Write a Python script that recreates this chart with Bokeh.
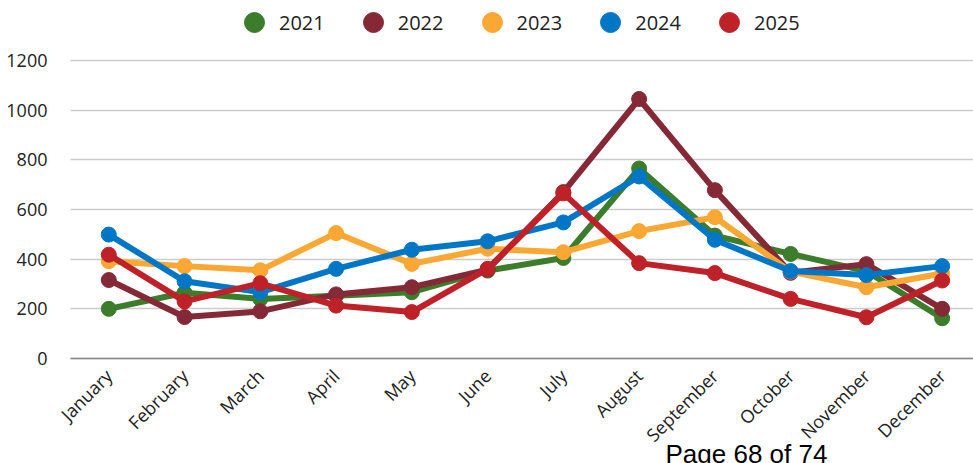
from bokeh.plotting import figure
from bokeh.models import Range1d, FixedTicker, Legend, LegendItem, Label
from bokeh.embed import file_html
from bokeh.resources import INLINE

months = ["January", "February", "March", "April", "May", "June", "July",
          "August", "September", "October", "November", "December"]
years = ["2021", "2022", "2023", "2024", "2025"]

v2021 = [200, 265, 240, 253, 267, 354, 405, 765, 495, 421, 352, 162]
v2022 = [316, 167, 190, 258, 287, 358, 670, 1045, 678, 345, 380, 200]
v2023 = [392, 372, 355, 505, 381, 442, 428, 513, 569, 350, 287, 342]
v2024 = [499, 311, 267, 361, 438, 472, 548, 733, 478, 352, 336, 372]
v2025 = [418, 230, 303, 213, 187, 361, 665, 384, 344, 240, 166, 314]
series = [v2021, v2022, v2023, v2024, v2025]

colors = ["#3b7d2b", "#862937", "#fba733", "#0076c6", "#be2228"]
y_ticks = [0, 200, 400, 600, 800, 1000, 1200]
footer = "Page 68 of 74"

FONT = "Open Sans"

W, H = 973, 463
LEFT = 70                       # canvas column where the plot area starts
ZERO_PX = 358                   # canvas row of the value 0
px_per_unit_y = 298 / 1200      # 1200 sits 298 px above 0
px_per_month = 75.76
x_left = -38.3 / px_per_month   # data x at the plot-area left edge
x_start = x_left - LEFT / px_per_month
x_end = x_start + W / px_per_month

p = figure(width=W, height=H, output_backend="svg", toolbar_location=None,
           x_range=Range1d(x_start, x_end),
           y_range=Range1d(-(H - ZERO_PX) / px_per_unit_y, ZERO_PX / px_per_unit_y),
           min_border_left=0, min_border_right=0, min_border_top=0,
           min_border_bottom=0)
p.outline_line_color = None
p.background_fill_color = None
p.border_fill_color = None

xs = list(range(len(months)))
items = []
for name, vals, col in zip(years, series, colors):
    p.line(xs, vals, line_color=col, line_width=6, line_join="round")
    r = p.scatter(xs, vals, size=15, fill_color=col, line_color=col)
    items.append(LegendItem(label=name, renderers=[r]))

p.xaxis.fixed_location = 0
p.xaxis.bounds = (x_left, x_end)
p.xaxis.ticker = FixedTicker(ticks=xs)
p.xaxis.major_label_overrides = {i: m for i, m in enumerate(months)}
p.xaxis.major_label_orientation = 0.785398
p.xaxis.axis_line_color = "#888888"
p.xaxis.axis_line_width = 1.5
p.xaxis.major_tick_line_color = None
p.xaxis.minor_tick_line_color = None
p.xaxis.major_label_text_font = FONT
p.xaxis.major_label_text_font_size = "18px"
p.xaxis.major_label_text_color = "#222222"
p.xaxis.major_label_standoff = 8
p.xgrid.grid_line_color = None

p.yaxis.fixed_location = x_left
p.yaxis.ticker = FixedTicker(ticks=y_ticks)
p.yaxis.axis_line_color = None
p.yaxis.major_tick_line_color = None
p.yaxis.minor_tick_line_color = None
p.yaxis.major_label_text_font = FONT
p.yaxis.major_label_text_font_size = "18px"
p.yaxis.major_label_text_color = "#222222"
p.yaxis.major_label_standoff = 17
p.ygrid.grid_line_color = "#cccccc"
p.ygrid.grid_line_width = 1.5
p.ygrid.cross_bounds = (x_left, x_end)

legend = Legend(items=items, orientation="horizontal", location=(229, 416),
                glyph_width=50, glyph_height=50, label_standoff=0, spacing=23,
                padding=0, margin=0, border_line_color=None,
                background_fill_alpha=0, label_text_font=FONT,
                label_text_font_size="20px", label_text_color="#222222")
p.add_layout(legend, "center")

p.add_layout(Label(x=665, y=10, x_units="screen", y_units="screen", text=footer,
                   text_font="Liberation Sans", text_font_size="26px",
                   text_color="#000000", text_baseline="alphabetic"))

open("out.html", "w").write(file_html(p, INLINE))
